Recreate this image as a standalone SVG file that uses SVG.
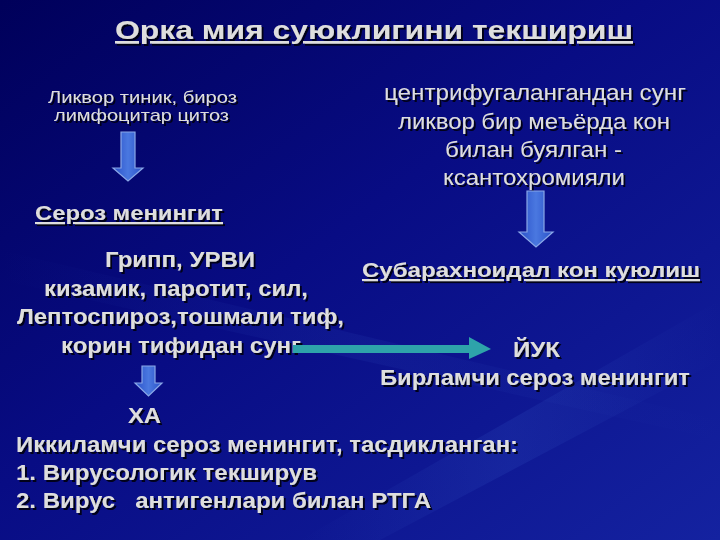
<svg xmlns="http://www.w3.org/2000/svg" width="720" height="540" viewBox="0 0 720 540">
<defs>
<linearGradient id="bg" x1="0" y1="0" x2="1" y2="1">
<stop offset="0" stop-color="#00005a"/>
<stop offset="0.45" stop-color="#080c84"/>
<stop offset="1" stop-color="#1422a0"/>
</linearGradient>
<linearGradient id="streak" x1="0" y1="0" x2="1" y2="0">
<stop offset="0" stop-color="#3050c0" stop-opacity="0"/>
<stop offset="0.5" stop-color="#3050c0" stop-opacity="0.22"/>
<stop offset="1" stop-color="#3050c0" stop-opacity="0"/>
</linearGradient>
<linearGradient id="blueArrow" x1="0" y1="0" x2="1" y2="0">
<stop offset="0" stop-color="#2a50c8"/>
<stop offset="0.5" stop-color="#4a78e0"/>
<stop offset="1" stop-color="#2a50c8"/>
</linearGradient>
<filter id="sh" x="-5%" y="-20%" width="110%" height="150%">
<feDropShadow dx="2" dy="2" stdDeviation="0.6" flood-color="#000010" flood-opacity="0.9"/>
</filter>
</defs>
<style>
text{font-family:"Liberation Sans",Arial,sans-serif;fill:#dedede;filter:url(#sh)}
.b{font-weight:bold}
.u{text-decoration:underline}
.ba{fill:url(#blueArrow);stroke:#8aa8e8;stroke-width:1.2}
.ta{fill:#2ea3aa}
</style>
<rect width="720" height="540" fill="url(#bg)"/>
<path d="M300 540 L720 300 L720 360 L380 540 Z" fill="url(#streak)"/>
<path d="M0 250 L720 420 L720 440 L0 280 Z" fill="url(#streak)" opacity="0.6"/>

<g id="title">
<text class="b u" x="115" y="39" font-size="26.5" textLength="518" lengthAdjust="spacingAndGlyphs">Орка мия суюклигини текшириш</text>
</g>

<g id="n-likvor">
<text x="48" y="103" font-size="17" textLength="189" lengthAdjust="spacingAndGlyphs">Ликвор тиник, бироз</text>
<text x="54" y="121" font-size="17" textLength="175" lengthAdjust="spacingAndGlyphs">лимфоцитар цитоз</text>
</g>

<g id="n-sentrifug">
<text x="384" y="100" font-size="22" textLength="302" lengthAdjust="spacingAndGlyphs">центрифугалангандан сунг</text>
<text x="398" y="129" font-size="22" textLength="272" lengthAdjust="spacingAndGlyphs">ликвор бир меъёрда кон</text>
<text x="445" y="157" font-size="22" textLength="177" lengthAdjust="spacingAndGlyphs">билан буялган -</text>
<text x="443" y="185" font-size="22" textLength="182" lengthAdjust="spacingAndGlyphs">ксантохромияли</text>
</g>

<g id="n-seroz">
<text class="b u" x="35" y="220" font-size="21" textLength="188" lengthAdjust="spacingAndGlyphs">Сероз менингит</text>
</g>

<g id="n-subarax">
<text class="b u" x="362" y="277" font-size="21" textLength="338" lengthAdjust="spacingAndGlyphs">Субарахноидал кон куюлиш</text>
</g>

<g id="n-gripp">
<text class="b" x="105" y="267" font-size="21.5" textLength="150" lengthAdjust="spacingAndGlyphs">Грипп, УРВИ</text>
<text class="b" x="44" y="296" font-size="21.5" textLength="264" lengthAdjust="spacingAndGlyphs">кизамик, паротит, сил,</text>
<text class="b" x="17" y="324" font-size="21.5" textLength="327" lengthAdjust="spacingAndGlyphs">Лептоспироз,тошмали тиф,</text>
<text class="b" x="61" y="353" font-size="21.5" textLength="240" lengthAdjust="spacingAndGlyphs">корин тифидан сунг</text>
</g>

<g id="n-yuk">
<text class="b" x="513" y="357" font-size="21.5" textLength="47" lengthAdjust="spacingAndGlyphs">ЙУК</text>
<text class="b" x="380" y="385" font-size="21.5" textLength="310" lengthAdjust="spacingAndGlyphs">Бирламчи сероз менингит</text>
</g>

<g id="n-xa">
<text class="b" x="128" y="423" font-size="21.5" textLength="33" lengthAdjust="spacingAndGlyphs">ХА</text>
</g>

<g id="n-ikkilamchi">
<text class="b" x="16" y="452" font-size="21.5" textLength="502" lengthAdjust="spacingAndGlyphs">Иккиламчи сероз менингит, тасдикланган:</text>
<text class="b" x="16" y="480" font-size="21.5" textLength="301" lengthAdjust="spacingAndGlyphs">1. Вирусологик текширув</text>
<text class="b" x="16" y="508" font-size="21.5" textLength="415" lengthAdjust="spacingAndGlyphs" xml:space="preserve">2. Вирус   антигенлари билан РТГА</text>
</g>

<g id="connectors">
<path class="ba" d="M121 132 H135 V168 H143 L128 181 L113 168 H121 Z"/>
<path class="ba" d="M527 191 H544 V232 H553 L536 247 L519 232 H527 Z"/>
<path class="ba" d="M142 366 H155 V383 H162 L148.5 396 L135 383 H142 Z"/>
<path class="ta" d="M293 345 H469 V337 L491 349 L469 359 V353 H293 Z"/>
</g>
</svg>
